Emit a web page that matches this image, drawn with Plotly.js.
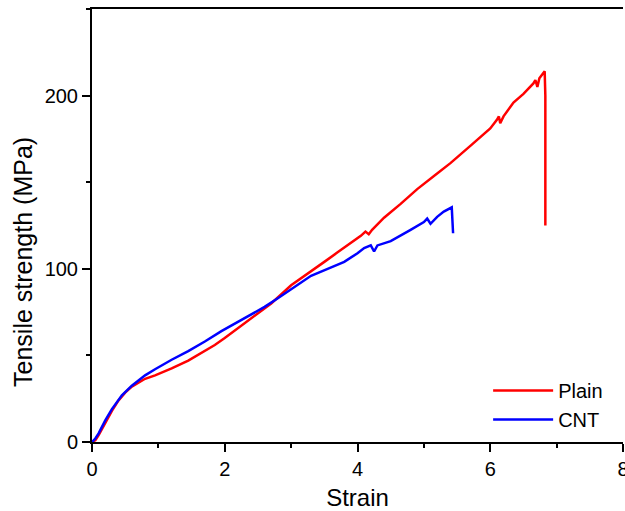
<!DOCTYPE html>
<html>
<head>
<meta charset="utf-8">
<script src="https://cdn.plot.ly/plotly-3.0.1.min.js"></script>
<style>html,body{margin:0;padding:0;background:#fff;}#chart{width:625px;height:511px;}</style>
</head>
<body>
<div id="chart"></div>
<script>
const plainStrain = [0, 0.05, 0.1, 0.2, 0.3, 0.4, 0.5, 0.6, 0.7, 0.8, 0.95, 1.2, 1.45, 1.7, 1.85, 2.0, 2.25, 2.5, 2.7, 3.0, 3.25, 3.5, 3.7, 3.95, 4.05, 4.12, 4.17, 4.22, 4.4, 4.65, 4.9, 5.2, 5.4, 5.7, 6.0, 6.1, 6.13, 6.15, 6.2, 6.35, 6.5, 6.65, 6.68, 6.71, 6.74, 6.78, 6.82, 6.83, 6.83];
const plainStress = [0, 1, 4, 11, 18, 24, 28.5, 32, 34.5, 36.5, 38.5, 42.5, 47, 52.5, 56, 60, 67, 74, 80, 90.5, 97.5, 104, 109.5, 116, 119, 121.5, 120, 122.5, 129.5, 137.5, 146, 155, 161, 171, 181, 186, 188, 184, 188, 196, 201, 207, 209, 205, 210, 212, 214, 200, 125];
const cntStrain = [0, 0.05, 0.1, 0.2, 0.3, 0.45, 0.6, 0.7, 0.8, 0.95, 1.2, 1.45, 1.7, 1.95, 2.2, 2.4, 2.6, 2.8, 3.0, 3.3, 3.55, 3.8, 4.0, 4.1, 4.2, 4.25, 4.3, 4.5, 4.8, 5.0, 5.05, 5.1, 5.2, 5.3, 5.42, 5.43, 5.44];
const cntStress = [0, 2, 5, 12.5, 19, 27, 32.5, 35.5, 38.5, 42, 47.5, 52.5, 58, 64, 69.5, 74, 78, 83, 88, 96, 100, 104, 109, 112, 113.5, 110, 113.5, 116, 122.5, 127, 129, 126, 130, 133, 135.5, 128, 120.5];
const seriesNames = ['Plain', 'CNT'];
const xTitle = 'Strain';
const yTitle = 'Tensile strength (MPa)';

const font = 'Liberation Sans, Arial, sans-serif';
const traces = [
  {x: plainStrain, y: plainStress, name: seriesNames[0], mode: 'lines', line: {color: '#ff0000', width: 2.5}},
  {x: cntStrain, y: cntStress, name: seriesNames[1], mode: 'lines', line: {color: '#0000ff', width: 2.5}}
];
const axisCommon = {
  showgrid: false, zeroline: false, showline: true, linecolor: '#000', linewidth: 2,
  ticks: 'outside', ticklen: 8, tickwidth: 2, tickcolor: '#000',
  tickfont: {family: font, size: 20, color: '#000'},
  ticklabeloverflow: 'allow',
  automargin: false
};
const layout = {
  width: 625, height: 511,
  margin: {l: 92, r: 2, t: 9, b: 69},
  paper_bgcolor: '#fff', plot_bgcolor: '#fff',
  font: {family: font, color: '#000'},
  xaxis: Object.assign({}, axisCommon, {
    range: [0, 8], dtick: 2, tick0: 0, mirror: true,
    minor: {dtick: 1, ticklen: 4, tickwidth: 2, tickcolor: '#000', ticks: 'outside'},
    title: {text: xTitle, font: {family: font, size: 24, color: '#000'}, standoff: 10}
  }),
  yaxis: Object.assign({}, axisCommon, {
    range: [0, 250], dtick: 100, tick0: 0,
    minor: {dtick: 50, ticklen: 4, tickwidth: 2, tickcolor: '#000', ticks: 'outside'}
  }),
  annotations: [{
    text: yTitle, xref: 'paper', yref: 'paper', x: -0.130, y: 0.4157,
    xanchor: 'center', yanchor: 'middle', textangle: -90, showarrow: false,
    font: {family: font, size: 25, color: '#000'}
  }],
  showlegend: true,
  legend: {
    x: 0.746, y: 0.164, xanchor: 'left', yanchor: 'top',
    bgcolor: 'rgba(0,0,0,0)', borderwidth: 0,
    font: {family: font, size: 20, color: '#000'},
    itemwidth: 60
  }
};
Plotly.newPlot('chart', traces, layout, {displayModeBar: false, staticPlot: true});
</script>
</body>
</html>
